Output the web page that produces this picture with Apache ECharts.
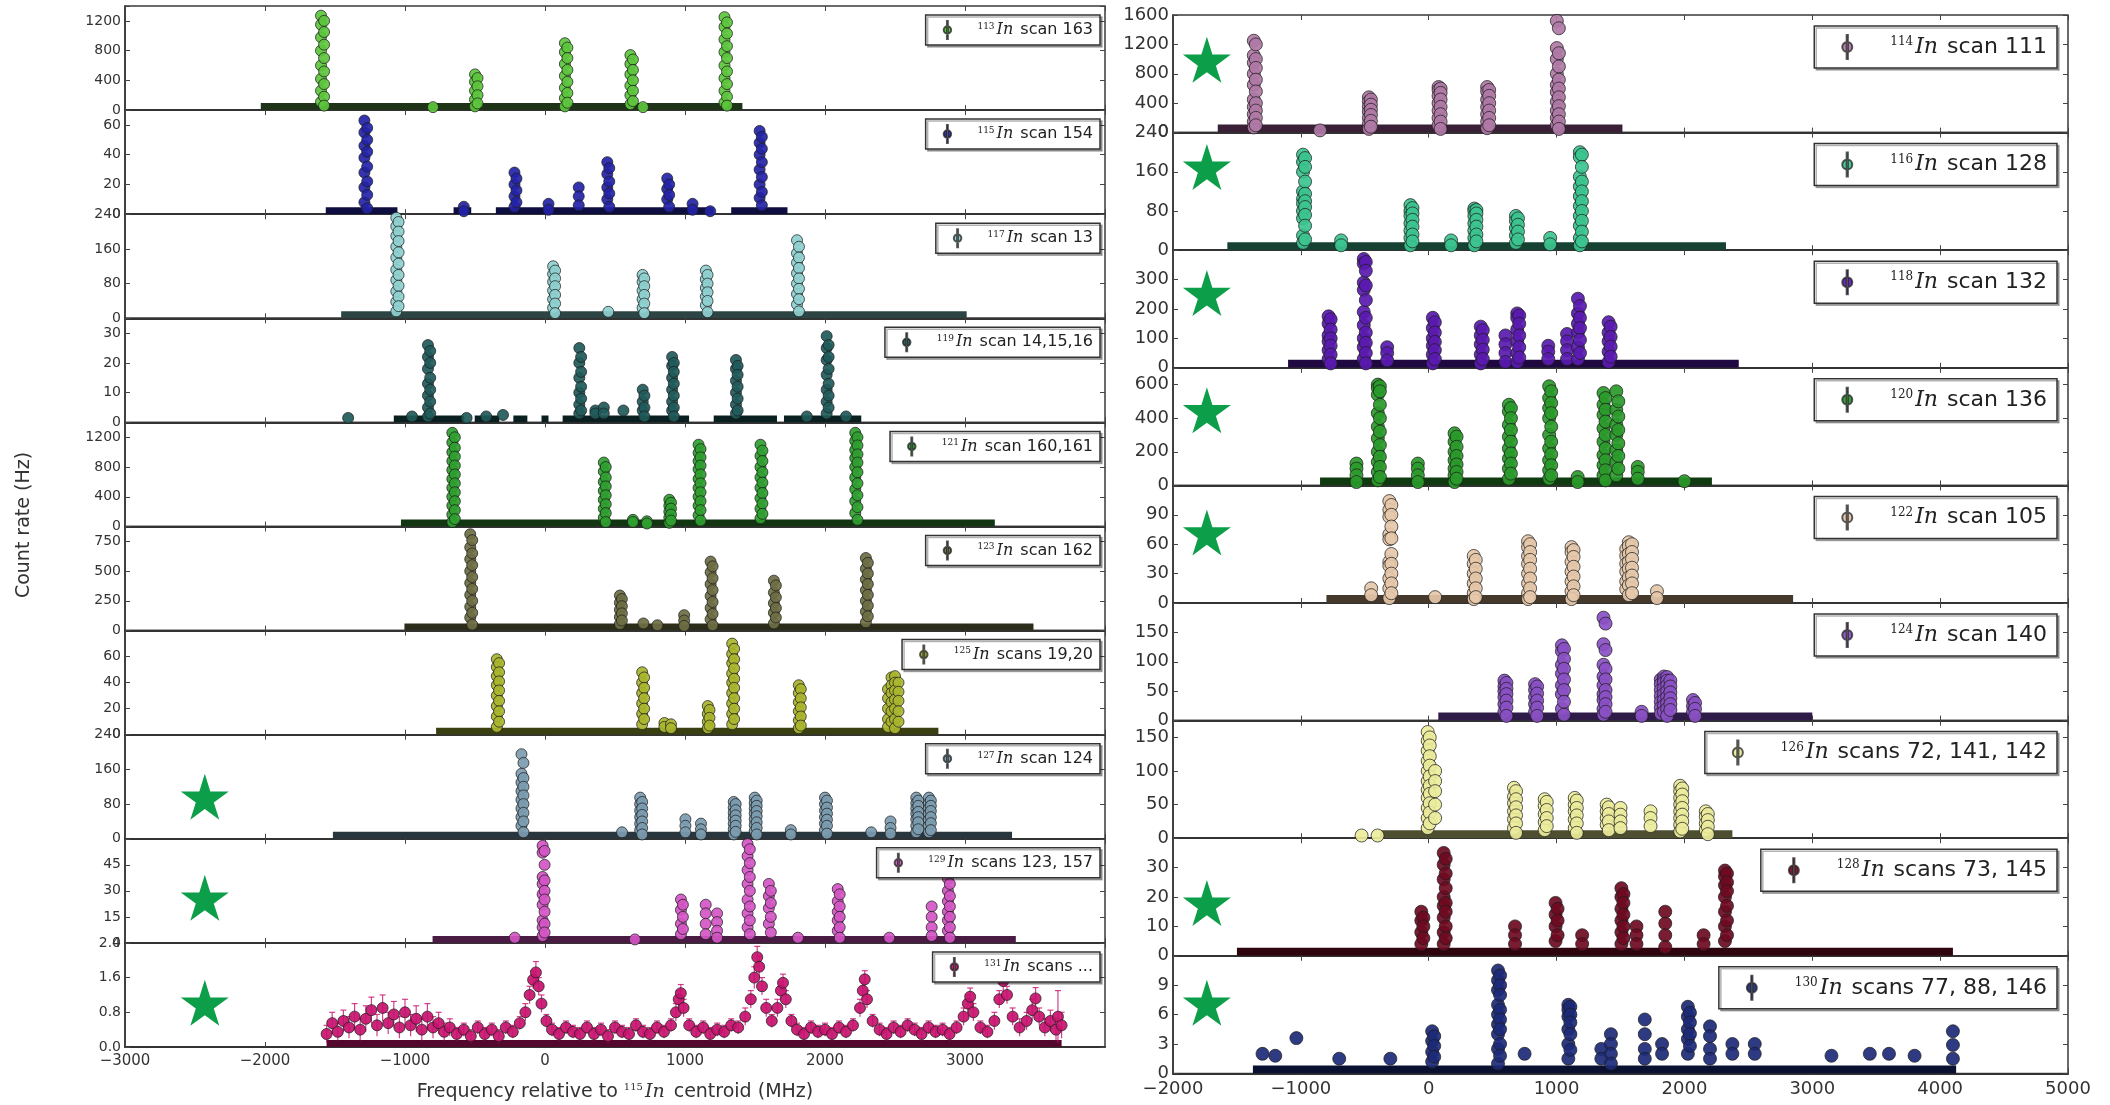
<!DOCTYPE html>
<html>
<head>
<meta charset="utf-8">
<script src="https://cdn.jsdelivr.net/npm/echarts@6/dist/echarts.min.js"></script>
<style>
html, body { margin: 0; padding: 0; background: #fff; }
#chart { width: 2110px; height: 1105px; }
</style>
</head>
<body>
<div id="chart"></div>
<script>
// ---- left column: odd isotopes ----
const leftIso = ['113', '115', '117', '119', '121', '123', '125', '127', '129', '131']
const leftScan = ['scan 163', 'scan 154', 'scan 13', 'scan 14,15,16', 'scan 160,161', 'scan 162', 'scans 19,20', 'scan 124', 'scans 123, 157', 'scans ...']
const leftMax = [1400, 70, 240, 35, 1400, 875, 80, 240, 60, 2.4]
const leftStep = [400, 20, 80, 10, 400, 250, 20, 80, 15, 0.8]
const leftTopLabel = [false, false, true, false, false, false, false, true, false, true]
const leftStarY = [null, null, null, null, null, null, null, 97, 26, 1.02]

// ---- right column: even isotopes ----
const rightIso = ['114', '116', '118', '120', '122', '124', '126', '128', '130']
const rightScan = ['scan 111', 'scan 128', 'scan 132', 'scan 136', 'scan 105', 'scan 140', 'scans 72, 141, 142', 'scans 73, 145', 'scans 77, 88, 146']
const rightMax = [1600, 240, 400, 700, 120, 200, 175, 40, 12]
const rightStep = [400, 80, 100, 200, 30, 50, 50, 10, 3]
const rightTopLabel = [true, true, false, false, false, false, false, false, false]
const rightStarY = [990, 170, 254, 447, 72, null, null, 18, 7.2]

const starFreqLeft = -2430
const starFreqRight = -1735

// x ranges (MHz) covered by the dense background of each scan
const base113 = [[-2030, 1410]]
const base115 = [[-1566, -1054], [-653, -527], [-351, 1205], [1330, 1732]]
const base117 = [[-1456, 3012]]
const base119 = [[-1080, -577], [-502, -326], [-226, -126], [-25, 25], [126, 1029], [1205, 1657], [1707, 2259]]
const base121 = [[-1029, 3213]]
const base123 = [[-1004, 3489]]
const base125 = [[-778, 2810]]
const base127 = [[-1515, 3336]]
const base129 = [[-803, 3363]]
const base131 = [[-1560, 3690]]
const base114 = [[-1650, 1515]]
const base116 = [[-1575, 2325]]
const base118 = [[-1100, 2425]]
const base120 = [[-850, 2215]]
const base122 = [[-800, 2850]]
const base124 = [[75, 3000]]
const base126 = [[-380, 2375]]
const base128 = [[-1500, 4100]]
const base130 = [[-1375, 4125]]

// peaks: [frequency MHz, [count rates measured at that step]]
const pk113 = [[-1600, [1270, 1150, 980, 800, 600, 420, 260, 110]], [-1578, [1200, 1050, 880, 700, 520, 350, 180, 60]],
  [-800, [40]], [-500, [480, 380, 260, 140, 50]], [-482, [430, 320, 200, 90]],
  [142, [900, 780, 620, 460, 300, 160, 50]], [160, [840, 700, 540, 380, 230, 100]], [700, [40]],
  [610, [740, 620, 480, 330, 200, 80]], [628, [680, 540, 400, 260, 120]],
  [1282, [1250, 1120, 950, 780, 600, 430, 260, 100]], [1300, [1180, 1030, 860, 700, 520, 350, 180, 60]]]
const pk115 = [[-1290, [63, 55, 46, 38, 28, 18, 8]], [-1270, [58, 50, 42, 32, 22, 13, 4]], [-580, [5, 2]],
  [-218, [28, 20, 12, 5]], [-204, [24, 16, 8]], [25, [7, 3]], [241, [18, 12, 6]],
  [445, [35, 27, 18, 10]], [459, [31, 22, 14, 5]], [873, [24, 17, 10]], [887, [20, 13, 5]],
  [1054, [7, 3]], [1180, [2]], [1533, [56, 48, 40, 30, 20, 11]], [1549, [52, 44, 35, 25, 15, 6]]]
const pk117 = [[-1062, [232, 212, 190, 165, 140, 112, 88, 62, 38, 16]], [-1046, [222, 200, 178, 152, 126, 100, 75, 50, 28]],
  [58, [120, 102, 84, 64, 44, 24]], [72, [110, 92, 74, 54, 34, 12]], [452, [15]],
  [697, [100, 84, 64, 44, 24]], [709, [92, 74, 54, 34, 12]],
  [1149, [110, 90, 70, 50, 30]], [1161, [100, 80, 60, 40, 14]],
  [1800, [180, 150, 128, 104, 80, 56, 32]], [1814, [165, 140, 116, 92, 68, 44, 16]]]
const pk119 = [[-1406, [1.5]], [-950, [2]], [-836, [26, 22, 18, 13, 9, 5, 2]], [-820, [24, 20, 15, 11, 7, 3]],
  [-560, [1.5]], [-420, [2]], [-300, [2.5]], [245, [25, 20, 15, 10, 6, 3]], [258, [22, 17, 12, 8, 4]],
  [360, [4, 3]], [420, [5, 3]], [560, [4]], [698, [11, 7, 4]], [710, [9, 5, 2]],
  [908, [22, 19, 15, 11, 7, 4]], [920, [20, 17, 13, 9, 5, 2]], [1364, [21, 18, 14, 10, 6, 3]], [1376, [19, 16, 12, 8, 4]],
  [1870, [2]], [2012, [29, 25, 21, 16, 11, 7, 3]], [2026, [26, 22, 18, 13, 9, 5]], [2150, [2]]]
const pk121 = [[-662, [1260, 1130, 1000, 880, 760, 640, 520, 400, 280, 160, 60]], [-644, [1200, 1060, 940, 820, 700, 580, 460, 340, 220, 100]],
  [420, [860, 740, 600, 480, 360, 240, 120]], [434, [800, 660, 540, 420, 300, 180, 60]], [628, [90, 60]], [728, [70, 40]],
  [888, [360, 280, 200, 120, 50]], [900, [320, 240, 160, 80]],
  [1097, [1100, 990, 880, 770, 640, 520, 400, 280, 150]], [1111, [1040, 930, 820, 700, 580, 460, 340, 220, 80]],
  [1539, [1100, 950, 800, 660, 520, 380, 240, 110]], [1553, [1020, 880, 730, 590, 450, 310, 170]],
  [2216, [1260, 1150, 1030, 920, 800, 660, 500, 340, 180]], [2232, [1200, 1090, 970, 860, 730, 580, 420, 260, 90]]]
const pk123 = [[-534, [810, 700, 600, 500, 400, 300, 200, 110]], [-520, [760, 650, 550, 450, 350, 250, 150, 50]],
  [535, [295, 235, 175, 115, 55]], [549, [265, 205, 145, 85]], [703, [60]], [803, [45]], [994, [130, 85, 40]],
  [1183, [580, 490, 390, 290, 190, 95]], [1197, [540, 440, 340, 240, 140, 45]],
  [1635, [420, 320, 230, 150, 60]], [1649, [380, 280, 190, 110]],
  [2292, [610, 520, 430, 340, 250, 160, 70]], [2306, [570, 480, 390, 300, 210, 120]]]
const pk125 = [[-344, [58, 52, 45, 38, 30, 22, 14, 6]], [-328, [55, 48, 41, 34, 26, 18, 10]],
  [694, [48, 40, 32, 24, 16, 8]], [708, [44, 36, 28, 20, 12]], [853, [9, 6]], [900, [8, 5]],
  [1163, [22, 16, 10, 5]], [1175, [19, 13, 7]], [1337, [70, 62, 55, 47, 40, 32, 24, 16, 8]], [1351, [66, 58, 51, 43, 36, 28, 20, 12]],
  [1813, [38, 32, 25, 18, 11, 5]], [1827, [35, 28, 21, 14, 7]],
  [2450, [35, 28, 20, 12, 6]], [2475, [44, 38, 32, 25, 18, 10]], [2500, [45, 40, 34, 27, 20, 12, 5]], [2525, [40, 33, 26, 18, 10]]]
const pk127 = [[-168, [195, 150, 130, 110, 90, 70, 50, 30]], [-154, [175, 140, 120, 100, 80, 60, 40, 15]], [550, [15]],
  [680, [95, 80, 65, 50, 35, 20]], [694, [85, 70, 55, 40, 25, 10]], [1003, [45, 30, 15]], [1114, [35, 22, 10]],
  [1348, [85, 72, 60, 48, 35, 22, 10]], [1362, [80, 66, 54, 42, 30, 16]],
  [1498, [95, 82, 70, 58, 45, 32, 18]], [1512, [88, 76, 64, 52, 38, 25, 10]], [1756, [20, 10]],
  [2000, [95, 80, 65, 50, 35, 20]], [2014, [88, 72, 58, 44, 30, 12]], [2330, [15]], [2468, [40, 25, 12]],
  [2652, [95, 82, 70, 58, 45, 30, 15]], [2666, [88, 76, 62, 50, 38, 22]],
  [2742, [95, 82, 70, 58, 44, 30, 15]], [2756, [88, 76, 64, 50, 36, 20]]]
const pk129 = [[-216, [3]], [-17, [56, 52, 38, 34, 28, 22, 13, 9, 4]], [-3, [53, 45, 36, 30, 25, 18, 11, 6]], [642, [2]],
  [971, [25, 19, 11, 5]], [985, [22, 15, 8]], [1148, [22, 17, 11, 5]], [1229, [17, 12, 7, 3]],
  [1447, [57, 50, 42, 34, 25, 17, 9]], [1463, [54, 46, 38, 30, 21, 13, 5]], [1599, [34, 27, 20, 11]], [1613, [30, 23, 15, 6]],
  [1807, [3]], [2091, [31, 24, 18, 13, 7]], [2105, [28, 21, 15, 9, 3]], [2459, [3]], [2762, [21, 15, 9, 4]],
  [2878, [37, 30, 24, 18, 13, 7]], [2892, [34, 27, 21, 15, 9, 3]]]
// 131In: [frequency, count rate, error]
const pts131 = [[-1560, 0.30, 0.20], [-1520, 0.55, 0.25], [-1480, 0.35, 0.20], [-1440, 0.60, 0.25], [-1400, 0.45, 0.25],
  [-1360, 0.70, 0.30], [-1320, 0.40, 0.25], [-1280, 0.65, 0.30], [-1240, 0.85, 0.30], [-1200, 0.50, 0.25],
  [-1160, 0.90, 0.30], [-1120, 0.55, 0.25], [-1080, 0.75, 0.30], [-1040, 0.45, 0.25], [-1000, 0.80, 0.30],
  [-960, 0.50, 0.25], [-920, 0.65, 0.30], [-880, 0.40, 0.25], [-840, 0.70, 0.30], [-800, 0.45, 0.25],
  [-760, 0.55, 0.25], [-720, 0.35, 0.20], [-680, 0.45, 0.20], [-630, 0.30, 0.15], [-580, 0.40, 0.15],
  [-530, 0.25, 0.15], [-480, 0.45, 0.15], [-430, 0.30, 0.15], [-380, 0.40, 0.15], [-330, 0.25, 0.15],
  [-280, 0.45, 0.15], [-230, 0.35, 0.15], [-180, 0.55, 0.15], [-140, 0.80, 0.20], [-110, 1.20, 0.20],
  [-85, 1.55, 0.20], [-65, 1.72, 0.25], [-45, 1.40, 0.20], [-25, 1.00, 0.20], [10, 0.60, 0.15],
  [50, 0.40, 0.15], [100, 0.30, 0.15], [150, 0.45, 0.15], [200, 0.35, 0.15], [250, 0.30, 0.15],
  [300, 0.45, 0.15], [350, 0.30, 0.15], [400, 0.40, 0.15], [450, 0.25, 0.15], [500, 0.45, 0.15],
  [550, 0.35, 0.15], [600, 0.30, 0.15], [650, 0.50, 0.15], [700, 0.35, 0.15], [750, 0.30, 0.15],
  [800, 0.45, 0.15], [850, 0.35, 0.15], [900, 0.50, 0.15], [935, 0.80, 0.20], [955, 1.10, 0.20],
  [970, 1.24, 0.20], [990, 0.90, 0.20], [1030, 0.50, 0.15], [1080, 0.35, 0.15], [1130, 0.45, 0.15],
  [1180, 0.30, 0.15], [1230, 0.40, 0.15], [1280, 0.35, 0.15], [1330, 0.50, 0.15], [1380, 0.45, 0.15],
  [1430, 0.70, 0.20], [1470, 1.10, 0.20], [1495, 1.60, 0.25], [1516, 2.07, 0.25], [1530, 1.85, 0.25],
  [1550, 1.40, 0.20], [1580, 0.90, 0.20], [1620, 0.60, 0.15], [1660, 0.90, 0.20], [1685, 1.30, 0.20],
  [1700, 1.48, 0.20], [1720, 1.10, 0.20], [1760, 0.60, 0.15], [1800, 0.40, 0.15], [1850, 0.30, 0.15],
  [1900, 0.45, 0.15], [1950, 0.35, 0.15], [2000, 0.40, 0.15], [2050, 0.30, 0.15], [2100, 0.45, 0.15],
  [2150, 0.35, 0.15], [2200, 0.50, 0.15], [2250, 0.90, 0.20], [2270, 1.30, 0.20], [2284, 1.56, 0.20],
  [2300, 1.10, 0.20], [2340, 0.60, 0.15], [2390, 0.40, 0.15], [2440, 0.30, 0.15], [2490, 0.45, 0.15],
  [2540, 0.35, 0.15], [2590, 0.50, 0.15], [2640, 0.40, 0.15], [2690, 0.30, 0.15], [2740, 0.45, 0.15],
  [2790, 0.35, 0.15], [2840, 0.40, 0.15], [2890, 0.30, 0.15], [2940, 0.45, 0.15], [2990, 0.70, 0.20],
  [3020, 1.00, 0.20], [3037, 1.16, 0.20], [3060, 0.80, 0.20], [3110, 0.45, 0.15], [3160, 0.35, 0.15],
  [3210, 0.60, 0.20], [3245, 1.10, 0.20], [3273, 1.52, 0.25], [3300, 1.20, 0.20], [3340, 0.70, 0.20],
  [3390, 0.45, 0.20], [3440, 0.60, 0.20], [3480, 0.85, 0.25], [3504, 1.12, 0.25], [3530, 0.70, 0.20],
  [3570, 0.45, 0.20], [3610, 0.60, 0.25], [3650, 0.40, 0.25], [3664, 0.70, 0.60], [3690, 0.50, 0.30]]

const pk114 = [[-1368, [1250, 1050, 950, 800, 650, 450, 350, 250, 150, 70]], [-1352, [1200, 1000, 880, 720, 560, 400, 300, 200, 100]],
  [-850, [30]], [-468, [480, 420, 350, 280, 200, 120, 50]], [-452, [450, 380, 310, 240, 160, 80]],
  [77, [620, 580, 500, 400, 300, 200, 100]], [93, [600, 540, 450, 350, 250, 150, 50]],
  [457, [620, 560, 450, 350, 250, 150, 60]], [473, [580, 500, 400, 300, 200, 100]],
  [1002, [1520, 1150, 1000, 800, 650, 550, 420, 300, 200, 100]], [1018, [1420, 1080, 900, 720, 600, 480, 360, 250, 150, 50]]]
const pk116 = [[-983, [195, 180, 160, 120, 105, 95, 80, 65, 30, 15]], [-967, [188, 170, 140, 115, 100, 88, 72, 50, 22]],
  [-685, [20, 10]], [-143, [92, 80, 70, 55, 40, 25, 10]], [-127, [86, 75, 62, 48, 32, 18]], [175, [20, 10]],
  [357, [85, 80, 70, 55, 40, 25, 10]], [373, [82, 75, 62, 48, 32, 18]], [682, [70, 60, 45, 30, 15]], [698, [65, 52, 38, 22]],
  [950, [25, 12]], [1182, [200, 190, 150, 130, 110, 90, 70, 50, 25, 10]], [1198, [195, 170, 140, 120, 100, 80, 60, 38, 18]]]
const pk118 = [[-783, [175, 150, 110, 90, 60, 30]], [-767, [165, 130, 100, 75, 45, 15]],
  [-508, [370, 355, 290, 265, 190, 145, 100, 70, 30]], [-492, [360, 330, 280, 230, 170, 120, 85, 50, 15]],
  [-325, [70, 50, 25]], [32, [170, 135, 100, 75, 45, 15]], [48, [155, 120, 88, 60, 30]],
  [407, [140, 110, 80, 45, 15]], [423, [128, 95, 62, 30]], [600, [110, 80, 50, 20]],
  [692, [185, 170, 130, 90, 50, 20]], [708, [178, 150, 110, 70, 35]], [935, [75, 55, 30]], [1082, [115, 90, 60, 30]],
  [1167, [235, 185, 150, 120, 70, 30]], [1183, [210, 170, 135, 95, 50]], [1407, [155, 120, 90, 55, 20]], [1423, [140, 105, 72, 38]]]
const pk120 = [[-565, [130, 100, 60, 20]], [-398, [600, 580, 540, 430, 350, 280, 200, 140, 80, 30]], [-382, [590, 560, 480, 400, 320, 240, 170, 110, 50]],
  [-85, [130, 100, 60, 20]], [202, [310, 260, 200, 150, 100, 60, 20]], [218, [290, 230, 175, 125, 80, 40]],
  [627, [480, 440, 360, 290, 220, 160, 100, 40]], [643, [460, 400, 330, 260, 190, 130, 70]],
  [942, [590, 520, 460, 400, 300, 220, 150, 90, 40]], [958, [560, 490, 430, 350, 260, 185, 120, 60]], [1165, [50, 20]],
  [1367, [550, 480, 420, 340, 260, 180, 120, 60]], [1383, [520, 450, 380, 300, 220, 150, 90, 30]],
  [1467, [560, 450, 360, 300, 210, 140, 60]], [1483, [500, 410, 330, 250, 175, 100]], [1635, [110, 80, 40]], [2000, [25]]]
const pk122 = [[-450, [15, 8]], [-308, [104, 95, 88, 70, 65, 42, 38, 25, 15, 5]], [-292, [100, 90, 78, 66, 50, 40, 30, 20, 10]],
  [50, [6]], [352, [48, 40, 30, 20, 10, 4]], [368, [44, 35, 25, 15, 6]],
  [777, [63, 57, 48, 40, 30, 20, 10, 4]], [793, [60, 52, 44, 35, 25, 15, 6]],
  [1117, [57, 52, 42, 32, 22, 12, 4]], [1133, [54, 47, 37, 27, 17, 8]],
  [1545, [55, 48, 40, 32, 22, 14]], [1565, [62, 58, 50, 42, 35, 26, 18, 8]], [1590, [60, 52, 45, 36, 28, 20, 10]], [1785, [12, 5]]]
const pk124 = [[592, [68, 58, 50, 40, 28, 15]], [608, [64, 54, 45, 34, 22, 8]], [832, [62, 52, 40, 28, 15]], [848, [58, 46, 34, 22, 8]],
  [1042, [128, 118, 95, 80, 60, 45, 20]], [1058, [122, 105, 88, 70, 52, 32, 10]],
  [1367, [175, 130, 95, 75, 60, 45, 35, 20, 10]], [1383, [165, 120, 88, 70, 52, 40, 28, 15]], [1665, [15, 8]],
  [1815, [70, 62, 52, 42, 32, 22, 12]], [1840, [75, 70, 65, 55, 45, 35, 25, 15]], [1865, [74, 68, 60, 50, 40, 30, 20, 8]], [1890, [68, 58, 48, 38, 28, 18]],
  [2067, [35, 25, 15]], [2083, [30, 20, 8]]]
const pk126 = [[-525, [4]], [-400, [4]], [-8, [158, 145, 130, 115, 100, 85, 72, 60, 45, 30, 15]], [8, [150, 138, 122, 108, 92, 78, 66, 52, 38, 22]],
  [50, [100, 85, 70, 50, 30]], [667, [75, 62, 52, 40, 28, 15]], [683, [70, 58, 46, 34, 22, 8]],
  [907, [58, 48, 36, 24, 12]], [923, [54, 42, 30, 18]], [1142, [60, 50, 40, 28, 15]], [1158, [56, 45, 34, 22, 8]],
  [1392, [50, 40, 30, 20]], [1408, [46, 36, 25, 12]], [1500, [45, 35, 25, 15]], [1735, [40, 30, 18]],
  [1967, [78, 70, 60, 50, 40, 30, 20, 10]], [1983, [74, 65, 55, 45, 35, 25, 14]], [2167, [40, 32, 22, 12]], [2183, [36, 27, 17, 6]]]
const pk128 = [[-58, [15, 12, 8, 4]], [-42, [13, 10, 6]], [117, [35, 31, 26, 20, 17, 13, 8, 4]], [133, [33, 28, 23, 18, 15, 10, 6]],
  [675, [10, 7, 4]], [992, [18, 14, 10, 5]], [1008, [16, 12, 7]], [1200, [7, 4]],
  [1507, [23, 20, 16, 12, 8, 4]], [1523, [21, 18, 14, 10, 6]], [1625, [10, 7, 4]], [1850, [15, 11, 7, 3]], [2150, [7, 4]],
  [2317, [29, 27, 24, 20, 15, 10, 5]], [2333, [28, 25, 22, 17, 12, 7]]]
const pk130 = [[-1300, [2]], [-1200, [1.8]], [-1035, [3.6]], [-700, [1.5]], [-300, [1.5]],
  [27, [4.3, 3.3, 2.2, 1.2]], [43, [3.8, 2.8, 1.7]], [542, [10.5, 9.5, 8.5, 7, 6, 5, 4, 2.5, 1]], [558, [10, 9, 8, 6.5, 5.5, 4.5, 3, 1.8]],
  [750, [2]], [1092, [7, 6.5, 5.8, 4.5, 3, 1.5]], [1108, [6.8, 6, 5.2, 4, 2.4]], [1350, [2.5, 1.5]], [1425, [4, 3, 2, 1]],
  [1690, [5.5, 4, 2.5, 1.5]], [1825, [3, 2]], [2027, [6.8, 5.8, 4.5, 3.5, 2]], [2043, [6.2, 5.2, 4, 2.8]],
  [2200, [4.8, 3.8, 2.5, 1.5]], [2375, [3, 2]], [2550, [3, 2]], [3150, [1.8]], [3450, [2]], [3600, [2]], [3800, [1.8]],
  [4100, [4.3, 2.9, 1.5]]]

const leftBase = [base113, base115, base117, base119, base121, base123, base125, base127, base129, base131]
const leftPeaks = [pk113, pk115, pk117, pk119, pk121, pk123, pk125, pk127, pk129, null]
const rightBase = [base114, base116, base118, base120, base122, base124, base126, base128, base130]
const rightPeaks = [pk114, pk116, pk118, pk120, pk122, pk124, pk126, pk128, pk130]

// marker fill / dark edge colours
const leftColors = [['#5cc53c', '#1f3318'], ['#2323a8', '#0e0e40'], ['#8fd0d0', '#2c4444'], ['#1f5a5a', '#0a2020'], ['#2f9f2f', '#123612'],
  ['#6e6e44', '#2c2c1a'], ['#a9b52c', '#3a3f12'], ['#7c9cb0', '#2a363e'], ['#d455c4', '#4a1c44'], ['#c8116e', '#55082e']]
const rightColors = [['#b07aa6', '#3a2036'], ['#3cc48f', '#154232'], ['#5a1ab0', '#1f0940'], ['#2a9a2a', '#103a10'], ['#e6c8aa', '#45392c'],
  ['#8a50c4', '#2f1b48'], ['#ecec9c', '#4e4e30'], ['#6e0a22', '#2e040e'], ['#1c2a78', '#0a1030']]

// layout of the two columns
const LEFT = { x: 125, w: 980, top: 6, h: 104.1, n: 10, xMin: -3000, xMax: 4000, font: 14, xFont: 15, sym: 11, band: 7,
  legRight: 1010, legTop: 9, legFont: 16, sup: 9, iconW: 10, iconH: 18, pad: [5, 7, 5, 17], gap: 20, starX: starFreqLeft, showMaxX: false }
const RIGHT = { x: 1173, w: 895, top: 15, h: 117.6, n: 9, xMin: -2000, xMax: 5000, font: 18, xFont: 18, sym: 13, band: 8,
  legRight: 53, legTop: 11, legFont: 22, sup: 12, iconW: 12, iconH: 24, pad: [8, 10, 8, 27], gap: 32, starX: starFreqRight, showMaxX: true }

const FONT = 'DejaVu Sans'
const starPath = 'path://M50,0 L61,35 L98,35 L68,57 L79,91 L50,70 L21,91 L32,57 L2,35 L39,35 Z'
const errIcon = 'path://M4.4,0h1.2v24h-1.2z M5,7a5,5 0 1,0 0.01,0z'

const grids = []
const xAxes = []
const yAxes = []
const series = []
const legends = []

function flatten(peaks) {
  const out = []
  peaks.forEach(p => p[1].forEach(y => out.push([p[0], y])))
  return out
}

function addPanel(L, i, iso, scan, yMax, yStep, topLabel, colors, base, pts, errs, starY) {
  const g = grids.length
  const top = L.top + i * L.h
  const last = i === L.n - 1
  const fill = colors[0]
  const dark = colors[1]
  grids.push({ left: L.x, top: top, width: L.w, height: L.h, show: true, borderColor: '#3a3a3a', borderWidth: 1.5,
    backgroundColor: 'transparent', containLabel: false, outerBoundsMode: 'none' })

  const xi = xAxes.length
  xAxes.push({
    gridIndex: g, type: 'value', position: 'bottom', min: L.xMin, max: L.xMax, interval: 1000,
    axisLine: { show: true, onZero: false, lineStyle: { color: '#333', width: 2 } },
    axisTick: { show: true, inside: true, length: 5, lineStyle: { color: '#444' } },
    axisLabel: { show: last, fontFamily: FONT, fontSize: L.xFont, color: '#333', margin: 7, showMaxLabel: L.showMaxX,
      formatter: v => String(v).replace('-', '\u2212') },
    splitLine: { show: false }
  })
  xAxes.push({
    gridIndex: g, type: 'value', position: 'top', min: L.xMin, max: L.xMax, interval: 1000,
    axisLine: { show: false, onZero: false }, axisTick: { show: true, inside: true, length: 5, lineStyle: { color: '#444' } },
    axisLabel: { show: false }, splitLine: { show: false }
  })
  const yi = yAxes.length
  yAxes.push({
    gridIndex: g, type: 'value', position: 'left', min: 0, max: yMax, interval: yStep,
    axisLine: { show: true, onZero: false, lineStyle: { color: '#333', width: 1.5 } },
    axisTick: { show: true, inside: true, length: 5, lineStyle: { color: '#444' } },
    axisLabel: { fontFamily: FONT, fontSize: L.font, color: '#333', margin: 4,
      formatter: v => {
        if (Math.abs(v - yMax) < 1e-9 && !topLabel) return ''
        return yStep < 1 ? v.toFixed(1) : String(Math.round(v))
      } },
    splitLine: { show: false }
  })
  yAxes.push({
    gridIndex: g, type: 'value', position: 'right', min: 0, max: yMax, interval: yStep,
    axisLine: { show: false, onZero: false }, axisTick: { show: true, inside: true, length: 5, lineStyle: { color: '#444' } },
    axisLabel: { show: false }, splitLine: { show: false }
  })

  // dense background band
  series.push({
    type: 'custom', xAxisIndex: xi, yAxisIndex: yi, silent: true, clip: true,
    data: base.map(b => [b[0], b[1], 0]), encode: { x: [0, 1], y: 2 },
    renderItem: (params, api) => {
      const a = api.coord([api.value(0), 0])
      const b = api.coord([api.value(1), 0])
      return { type: 'rect', shape: { x: a[0], y: a[1] - L.band, width: b[0] - a[0], height: L.band },
        style: { fill: dark } }
    }
  })
  if (errs) {
    series.push({
      type: 'custom', xAxisIndex: xi, yAxisIndex: yi, silent: true, clip: true,
      data: errs, encode: { x: 0, y: 1 },
      renderItem: (params, api) => {
        const x = api.value(0), y = api.value(1), e = api.value(2)
        const a = api.coord([x, Math.max(0, y - e)])
        const b = api.coord([x, y + e])
        return { type: 'group', children: [
          { type: 'line', shape: { x1: a[0], y1: a[1], x2: b[0], y2: b[1] }, style: { stroke: fill, lineWidth: 1.2, opacity: 0.8 } },
          { type: 'line', shape: { x1: b[0] - 3, y1: b[1], x2: b[0] + 3, y2: b[1] }, style: { stroke: fill, lineWidth: 1.2, opacity: 0.8 } }
        ] }
      }
    })
  }
  const key = iso + ' ' + scan
  series.push({
    type: 'scatter', name: key, xAxisIndex: xi, yAxisIndex: yi, data: pts, symbol: 'circle', symbolSize: L.sym,
    silent: true, clip: true,
    itemStyle: { color: fill, borderColor: 'rgba(30,30,30,0.8)', borderWidth: 1, opacity: 0.92 }
  })
  if (starY != null) {
    series.push({
      type: 'scatter', xAxisIndex: xi, yAxisIndex: yi, data: [[L.starX, starY]], symbol: starPath, symbolSize: [48, 46],
      silent: true, z: 5, itemStyle: { color: '#0c9e48', opacity: 1 }
    })
  }
  legends.push({
    data: [{ name: key, icon: errIcon }], right: L.legRight, top: top + L.legTop, selectedMode: false,
    backgroundColor: '#fff', borderColor: '#333', borderWidth: 1.5, borderRadius: 0, padding: L.pad,
    shadowColor: 'rgba(0,0,0,0.3)', shadowOffsetX: 2, shadowOffsetY: 2, shadowBlur: 0,
    itemWidth: L.iconW, itemHeight: L.iconH,
    formatter: () => '{sup|' + iso + '}{it|In} ' + scan,
    textStyle: { fontFamily: FONT, fontSize: L.legFont, color: '#222', padding: [0, 0, 0, L.gap],
      rich: {
        sup: { fontFamily: 'DejaVu Serif', fontSize: L.sup, color: '#222', verticalAlign: 'top', padding: [0, 2, 0, 0] },
        it: { fontFamily: 'DejaVu Serif', fontStyle: 'italic', fontSize: L.legFont, color: '#222', padding: [0, 2, 0, 0] }
      } }
  })
}

for (let i = 0; i < leftIso.length; i++) {
  const is131 = leftPeaks[i] === null
  const pts = is131 ? pts131.map(p => [p[0], p[1]]) : flatten(leftPeaks[i])
  addPanel(LEFT, i, leftIso[i], leftScan[i], leftMax[i], leftStep[i], leftTopLabel[i], leftColors[i],
    leftBase[i], pts, is131 ? pts131 : null, leftStarY[i])
}
for (let i = 0; i < rightIso.length; i++) {
  addPanel(RIGHT, i, rightIso[i], rightScan[i], rightMax[i], rightStep[i], rightTopLabel[i], rightColors[i],
    rightBase[i], flatten(rightPeaks[i]), null, rightStarY[i])
}

const chart = echarts.init(document.getElementById('chart'), null, { renderer: 'canvas' })
chart.setOption({
  animation: false,
  backgroundColor: '#fff',
  grid: grids,
  xAxis: xAxes,
  yAxis: yAxes,
  legend: legends,
  series: series,
  graphic: [
    {
      type: 'text', x: 24, y: 525, rotation: Math.PI / 2, silent: true,
      style: { text: 'Count rate (Hz)', fontFamily: FONT, fontSize: 19, fill: '#333', align: 'center', verticalAlign: 'middle' }
    },
    {
      type: 'text', x: 615, y: 1092, silent: true,
      style: {
        text: 'Frequency relative to {sup|115}{it|In} centroid (MHz)', fontFamily: FONT, fontSize: 19, fill: '#333',
        align: 'center', verticalAlign: 'middle',
        rich: {
          sup: { fontFamily: 'DejaVu Serif', fontSize: 10, fill: '#333', verticalAlign: 'top', padding: [0, 2, 0, 0] },
          it: { fontFamily: 'DejaVu Serif', fontStyle: 'italic', fontSize: 19, fill: '#333', padding: [0, 3, 0, 0] }
        }
      }
    }
  ]
})
</script>
</body>
</html>
